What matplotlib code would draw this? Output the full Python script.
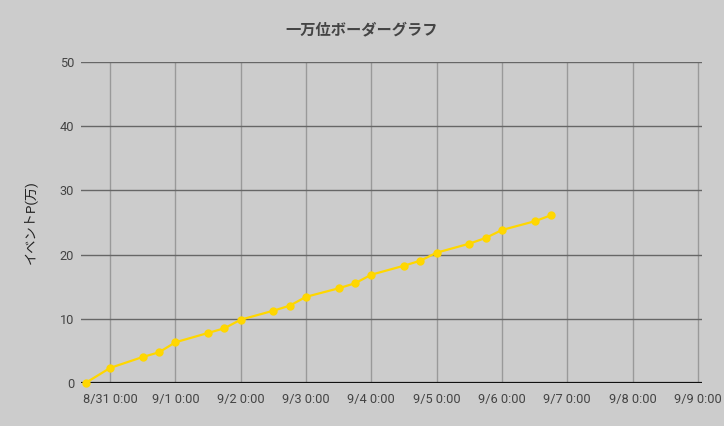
import matplotlib
matplotlib.use('Agg')
import matplotlib.pyplot as plt
from datetime import datetime, timedelta

plt.rcParams['font.family'] = ['Roboto', 'Noto Sans CJK JP', 'DejaVu Sans']

# data
times = ['2019-08-30 15:00', '2019-08-31 00:00', '2019-08-31 12:00', '2019-08-31 18:00',
         '2019-09-01 00:00', '2019-09-01 12:00', '2019-09-01 18:00',
         '2019-09-02 00:00', '2019-09-02 12:00', '2019-09-02 18:00',
         '2019-09-03 00:00', '2019-09-03 12:00', '2019-09-03 18:00',
         '2019-09-04 00:00', '2019-09-04 12:00', '2019-09-04 18:00',
         '2019-09-05 00:00', '2019-09-05 12:00', '2019-09-05 18:00',
         '2019-09-06 00:00', '2019-09-06 12:00', '2019-09-06 18:00']
points = [0, 2.34, 4.05, 4.78,
          6.34, 7.79, 8.52,
          9.86, 11.26, 12.04,
          13.42, 14.75, 15.53,
          16.87, 18.27, 19.05,
          20.30, 21.70, 22.59,
          23.83, 25.19, 26.12]
tick_days = ['2019-08-31', '2019-09-01', '2019-09-02', '2019-09-03', '2019-09-04',
             '2019-09-05', '2019-09-06', '2019-09-07', '2019-09-08', '2019-09-09']
y_ticks = [0, 10, 20, 30, 40, 50]

dates = [datetime.strptime(t, '%Y-%m-%d %H:%M') for t in times]
ticks = [datetime.strptime(d, '%Y-%m-%d') for d in tick_days]
tick_labels = ['%d/%d 0:00' % (d.month, d.day) for d in ticks]

bg = '#cccccc'
fig = plt.figure(figsize=(7.24, 4.26), dpi=100, facecolor=bg)
ax = fig.add_axes([81 / 724, 43 / 426, 621 / 724, 321 / 426], facecolor=bg)

start = ticks[0]
ax.set_xlim(start - timedelta(days=0.444), start + timedelta(days=9.062))
ax.set_ylim(0, 50)

# grid
for t in ticks:
    ax.axvline(t, color='#999999', lw=1.0, zorder=1)
for v in y_ticks[1:]:
    ax.axhline(v, color='#666666', lw=1.0, zorder=1)
ax.axhline(0, color='#111111', lw=1.6, zorder=2)

ax.plot(dates, points, color='#ffd700', lw=1.6, marker='o', markersize=5,
        zorder=3, clip_on=False)

for s in ax.spines.values():
    s.set_visible(False)

ax.set_xticks(ticks)
ax.set_xticklabels(tick_labels)
ax.set_yticks(y_ticks)
ax.tick_params(axis='both', length=0, labelsize=9.2, labelcolor='#444444')
ax.tick_params(axis='x', pad=7)
ax.tick_params(axis='y', pad=5)

ax.set_ylabel('イベントP(万)', fontsize=9.5, color='#222222', labelpad=16)
fig.text(0.5, 1 - 30 / 426, '一万位ボーダーグラフ', ha='center', va='center',
         fontsize=11, fontweight='bold', color='#444444')

plt.savefig('out.png', dpi=100, facecolor=bg)
